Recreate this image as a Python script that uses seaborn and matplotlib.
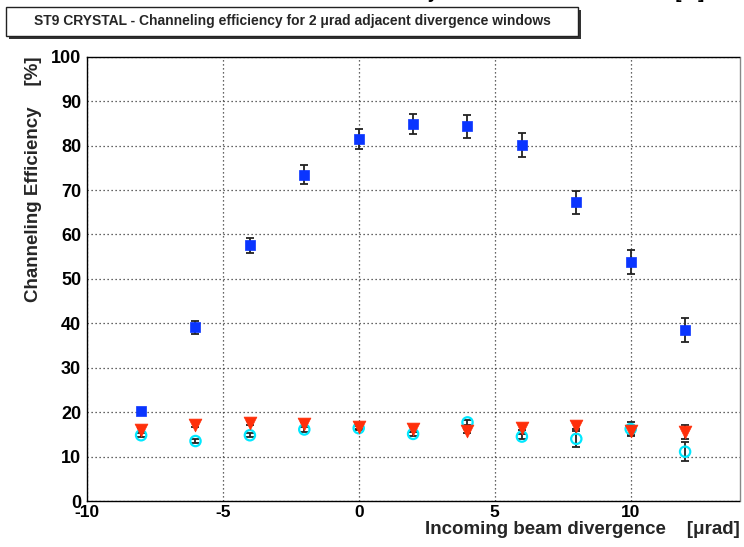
import matplotlib
matplotlib.use("Agg")
import matplotlib.pyplot as plt
from matplotlib.patches import Rectangle
from matplotlib.ticker import MultipleLocator
import seaborn as sns
import numpy as np
import pandas as pd

# Divergence window centres [urad]
divergence = [-8, -6, -4, -2, 0, 2, 4, 6, 8, 10, 12]

# Channeling efficiency [%] and uncertainties for the three selections
eff_channeling = [20.3, 39.1, 57.6, 73.5, 81.5, 84.9, 84.4, 80.2, 67.2, 53.9, 38.6]
err_channeling = [0.5, 1.4, 1.7, 2.1, 2.3, 2.2, 2.6, 2.7, 2.5, 2.7, 2.7]

eff_triangle = [16.0, 17.2, 17.6, 17.3, 16.7, 16.1, 15.8, 16.5, 16.9, 15.8, 15.6]
err_triangle = [0.5, 0.5, 0.5, 0.5, 0.5, 0.5, 0.5, 0.5, 0.6, 1.0, 1.6]

eff_circle = [14.8, 13.5, 14.8, 16.1, 16.4, 15.1, 17.7, 14.5, 14.0, 16.2, 11.1]
err_circle = [0.5, 0.5, 0.5, 0.5, 0.5, 0.5, 0.5, 0.5, 1.8, 1.5, 2.2]

x_ticks = [-10, -5, 0, 5, 10]
y_ticks = [0, 10, 20, 30, 40, 50, 60, 70, 80, 90, 100]

title_text = "ST9 CRYSTAL - Channeling efficiency for 2 \u03bcrad adjacent divergence windows"
xlabel_text = "Incoming beam divergence    [\u03bcrad]"
ylabel_text = "Channeling Efficiency    [%]"
top_text = "Crystal Radius of Curvature    [m]"

sns.set_theme(style="white")
plt.rcParams["font.family"] = ["Liberation Sans", "DejaVu Sans"]
plt.rcParams["font.weight"] = "bold"

W, H = 744, 547
fig = plt.figure(figsize=(W / 100, H / 100), dpi=100)
fig.patch.set_facecolor("white")

left_px, right_px, top_px, bottom_px = 86.7, 739.5, 56.8, 501.0
ax = fig.add_axes([left_px / W, 1 - bottom_px / H,
                   (right_px - left_px) / W, (bottom_px - top_px) / H])
ax.set_facecolor("white")

df = pd.DataFrame({
    "div": divergence,
    "chan": eff_channeling, "chan_err": err_channeling,
    "tri": eff_triangle, "tri_err": err_triangle,
    "circ": eff_circle, "circ_err": err_circle,
})

err_kw = dict(fmt="none", ecolor="#222222", elinewidth=1.3, capsize=3.2, capthick=1.3, zorder=2)
ax.errorbar(df["div"], df["chan"], yerr=df["chan_err"], **err_kw)
ax.errorbar(df["div"], df["tri"], yerr=df["tri_err"], **err_kw)
ax.errorbar(df["div"], df["circ"], yerr=df["circ_err"], **err_kw)

sns.scatterplot(data=df, x="div", y="circ", ax=ax, marker="o", s=55,
                facecolors="none", edgecolor="#00e8ff", linewidth=1.6, zorder=3)
sns.scatterplot(data=df, x="div", y="tri", ax=ax, marker="v", s=85,
                color="#ff2f0a", edgecolor="#ff2f0a", linewidth=0.5, zorder=4)
sns.scatterplot(data=df, x="div", y="chan", ax=ax, marker="s", s=52,
                color="#0a35ff", edgecolor="#0a35ff", linewidth=0.5, zorder=5)

ax.set_xlim(-10, 14)
ax.set_ylim(0, 100)
ax.set_xticks(x_ticks)
ax.set_xticklabels([str(v) for v in x_ticks])
ax.set_yticks(y_ticks)
ax.set_yticklabels([str(v) for v in y_ticks])
ax.xaxis.set_minor_locator(MultipleLocator(1))
ax.yaxis.set_minor_locator(MultipleLocator(2))

ax.grid(True, which="major", color="#333333", linestyle=(0, (1, 2.2)), linewidth=0.9)
ax.tick_params(axis="both", which="both", direction="in", colors="black",
               top=False, right=False)
ax.tick_params(axis="x", which="major", length=11, width=1.0, pad=3, labelsize=12.5)
ax.tick_params(axis="x", which="minor", length=5.5, width=1.0)
ax.tick_params(axis="y", which="major", length=14, width=1.0, pad=4, labelsize=13)
ax.tick_params(axis="y", which="minor", length=8, width=1.0)
for lab in ax.get_xticklabels() + ax.get_yticklabels():
    lab.set_fontweight("bold")

for side in ["left", "bottom", "right", "top"]:
    ax.spines[side].set_visible(True)
    ax.spines[side].set_color("black")
    ax.spines[side].set_linewidth(1.0)
ax.spines["right"].set_color("#888888")

ax.set_xlabel(xlabel_text, loc="right", fontsize=13.5, fontweight="bold")
ax.xaxis.set_label_coords(1.0, -0.046)
ax.set_ylabel(ylabel_text, loc="top", fontsize=13.5, fontweight="bold")
ax.yaxis.set_label_coords(-0.068, 1.0)

# Title box with drop shadow
bx0, bx1, by0, by1 = 6, 578, 7, 36
sh = 3
fig.patches.append(Rectangle(((bx0 + sh) / W, 1 - (by1 + sh) / H), (bx1 - bx0) / W, (by1 - by0) / H,
                             transform=fig.transFigure, facecolor="#333333", edgecolor="none", zorder=1))
fig.patches.append(Rectangle((bx0 / W, 1 - by1 / H), (bx1 - bx0) / W, (by1 - by0) / H,
                             transform=fig.transFigure, facecolor="white", edgecolor="#222222",
                             linewidth=1.0, zorder=2))
fig.text((bx0 + bx1) / 2 / W, 1 - (by0 + by1) / 2 / H, title_text,
         ha="center", va="center", fontsize=10, fontweight="bold", zorder=3)

# Caption of a neighbouring pad, cut by the canvas edge
fig.text(407 / W, 1 + 2 / H, top_text, ha="left", va="baseline",
         fontsize=13.5, fontweight="bold", color="black")

fig.savefig("out.png", dpi=100, facecolor="white")
